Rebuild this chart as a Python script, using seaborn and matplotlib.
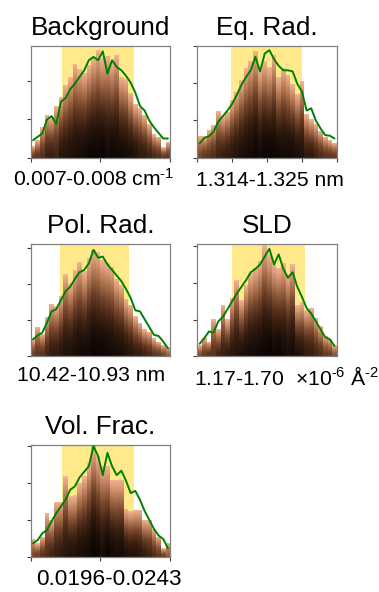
import numpy as np
import matplotlib
matplotlib.use("Agg")
import matplotlib.pyplot as plt
from matplotlib.colors import LinearSegmentedColormap
import seaborn as sns

# ---- parameter names, ranges and marginal histograms ----
titles = ["Background", "Eq. Rad.", "Pol. Rad.", "SLD", "Vol. Frac."]
range_labels = [
    "0.007-0.008 cm$^{\\text{-1}}$",
    "1.314-1.325 nm",
    "10.42-10.93 nm",
    "1.17-1.70  \u00d710$^{\\text{-6}}$ \u00c5$^{\\text{-2}}$",
    "0.0196-0.0243",
]
x_ranges = [(0.007, 0.008), (1.314, 1.325), (10.42, 10.93), (1.17, 1.70), (0.0196, 0.0243)]
ci68 = [(0.007227, 0.007744), (1.31663, 1.32229), (10.527, 10.780),
        (1.3004, 1.5786), (0.020667, 0.023097)]

# sample density per bin (30 bins, peak-normalised)
hist_background = [0.10, 0.155, 0.27, 0.38, 0.36, 0.46, 0.54, 0.65, 0.72, 0.84,
                   0.79, 0.76, 0.83, 0.90, 0.96, 0.89, 0.91, 0.85, 0.92, 0.72,
                   0.70, 0.58, 0.48, 0.44, 0.38, 0.30, 0.21, 0.185, 0.09, 0.14]
hist_eq_rad = [0.19, 0.19, 0.25, 0.29, 0.415, 0.37, 0.41, 0.51, 0.59, 0.69,
               0.80, 0.86, 0.95, 0.79, 0.86, 0.81, 0.92, 0.72, 0.80, 0.74,
               0.66, 0.57, 0.68, 0.39, 0.34, 0.30, 0.24, 0.185, 0.155, 0.13]
hist_pol_rad = [0.15, 0.26, 0.20, 0.35, 0.47, 0.45, 0.54, 0.73, 0.65, 0.77,
                0.84, 0.76, 0.88, 0.95, 0.93, 0.86, 0.83, 0.80, 0.69, 0.64,
                0.51, 0.46, 0.36, 0.30, 0.24, 0.22, 0.16, 0.13, 0.095, 0.08]
hist_sld = [0.095, 0.16, 0.13, 0.33, 0.24, 0.46, 0.33, 0.52, 0.68, 0.50,
            0.64, 0.74, 0.79, 0.85, 0.99, 0.91, 0.83, 0.79, 0.83, 0.73,
            0.82, 0.46, 0.48, 0.41, 0.43, 0.34, 0.27, 0.18, 0.155, 0.095]
hist_vol_frac = [0.155, 0.12, 0.18, 0.39, 0.33, 0.49, 0.49, 0.72, 0.54, 0.55,
                 0.66, 0.72, 0.84, 0.99, 0.90, 0.81, 0.81, 0.69, 0.69, 0.69,
                 0.43, 0.41, 0.42, 0.42, 0.33, 0.33, 0.245, 0.18, 0.075, 0.125]

# maximum likelihood within each bin, scaled to the histogram peak
best_background = [0.155, 0.185, 0.215, 0.34, 0.37, 0.30, 0.50, 0.53, 0.61, 0.66,
                   0.72, 0.78, 0.87, 0.90, 0.87, 0.95, 0.75, 0.87, 0.81, 0.78,
                   0.73, 0.67, 0.58, 0.46, 0.42, 0.33, 0.27, 0.22, 0.17, 0.17]
best_eq_rad = [0.125, 0.175, 0.19, 0.23, 0.32, 0.37, 0.42, 0.48, 0.56, 0.65,
               0.72, 0.78, 0.90, 0.77, 0.93, 0.96, 0.88, 0.82, 0.78, 0.78,
               0.77, 0.66, 0.59, 0.42, 0.44, 0.33, 0.26, 0.20, 0.195, 0.17]
best_pol_rad = [0.15, 0.185, 0.21, 0.30, 0.40, 0.42, 0.50, 0.58, 0.62, 0.69,
                0.75, 0.77, 0.83, 0.95, 0.88, 0.89, 0.82, 0.77, 0.72, 0.67,
                0.60, 0.52, 0.41, 0.40, 0.33, 0.26, 0.19, 0.18, 0.13, 0.07]
best_sld = [0.11, 0.16, 0.22, 0.21, 0.31, 0.35, 0.42, 0.49, 0.56, 0.62,
            0.68, 0.75, 0.78, 0.82, 0.89, 0.96, 0.82, 0.91, 0.78, 0.70,
            0.75, 0.62, 0.53, 0.43, 0.38, 0.31, 0.24, 0.17, 0.15, 0.09]
best_vol_frac = [0.12, 0.15, 0.21, 0.24, 0.32, 0.39, 0.45, 0.51, 0.60, 0.63,
                 0.71, 0.76, 0.81, 0.99, 0.90, 0.73, 0.93, 0.81, 0.73, 0.77,
                 0.68, 0.57, 0.59, 0.51, 0.41, 0.33, 0.25, 0.19, 0.16, 0.075]

hists = [hist_background, hist_eq_rad, hist_pol_rad, hist_sld, hist_vol_frac]
bests = [best_background, best_eq_rad, best_pol_rad, best_sld, best_vol_frac]

# tick placement (fractions of the axis extents)
ytick_steps = [0.34, 0.332, 0.321, 0.327, 0.33]
xtick_fracs = [[0, 0.5, 1], [0, 0.25, 0.5, 0.75, 1], [], [], [0, 0.5, 1]]

# ---- style ----
sns.set_style("ticks")
plt.rcParams["font.family"] = ["Liberation Sans", "DejaVu Sans"]
plt.rcParams["text.color"] = "black"
plt.rcParams["axes.labelcolor"] = "black"
plt.rcParams["axes.titlecolor"] = "black"
plt.rcParams["mathtext.fontset"] = "custom"
plt.rcParams["mathtext.rm"] = "Liberation Sans"
plt.rcParams["mathtext.it"] = "Liberation Sans"
plt.rcParams["mathtext.default"] = "regular"

# copper-like ramp: best likelihood dark, worst light
cmap = LinearSegmentedColormap.from_list(
    "nllf", ["#0b0503", "#3a2011", "#72432a", "#a66e4b", "#d29370", "#f1b592"])
NLL_SPAN = 5.0

W, H = 379, 592
fig = plt.figure(figsize=(W / 100, H / 100), dpi=100)

col_left = [30.7, 197.3]
row_top = [45.7, 244.3, 445.0]
ax_w, ax_h = 139.5, 111.8

# label centres (axes fraction), vertical offsets (pixels below axis), sizes
label_x = [0.449, 0.523, 0.431, 0.642, 0.564]
label_gap = [10.5, 13.5, 10, 10, 12.5]
label_size = [15.2, 15.2, 15.2, 15.2, 16.2]


def draw_panel(ax, lo, hi, heights, best, span, ystep, xfr, title, label,
               lx, lgap, lsize):
    edges = np.linspace(lo, hi, len(heights) + 1)
    centers = 0.5 * (edges[:-1] + edges[1:])
    heights = np.asarray(heights)
    best = np.asarray(best)

    ax.axvspan(span[0], span[1], color="#ffe98a", zorder=0.5, lw=0)

    # stacked likelihood colouring inside each histogram bar
    ny = 400
    yy = np.linspace(0, 1, ny + 1)
    ymid = 0.5 * (yy[:-1] + yy[1:])
    base = np.clip(-np.log(best / best.max()) / NLL_SPAN, 0, 1)
    frac = ymid[:, None] / heights[None, :]
    vals = base[None, :] + (1 - base[None, :]) * np.clip(frac, 0, 1) ** 1.8
    vals = np.ma.masked_where(frac > 1, vals)
    ax.pcolormesh(edges, yy, vals, cmap=cmap, vmin=0, vmax=1,
                  shading="flat", antialiased=False, lw=0, zorder=1)

    sns.lineplot(x=centers, y=best, ax=ax, color="#008000", lw=1.4, zorder=3)

    ax.set_xlim(lo, hi)
    ax.set_ylim(0, 1)
    ax.set_yticks(np.arange(0, 1.0001, ystep))
    ax.set_yticklabels([])
    ax.set_xticks([lo + f * (hi - lo) for f in xfr])
    ax.set_xticklabels([])
    ax.tick_params(axis="both", direction="out", length=3, width=0.8,
                   color="#404040")
    for s in ax.spines.values():
        s.set_color("#808080")
        s.set_linewidth(0.9)

    ax.set_title(title, fontsize=18.8, pad=8)
    ax.set_xlabel(label, fontsize=lsize)
    ax.xaxis.set_label_coords(lx, -lgap / ax_h)


for k in range(5):
    r, c = divmod(k, 2)
    rect = [col_left[c] / W, 1 - (row_top[r] + ax_h) / H, ax_w / W, ax_h / H]
    ax = fig.add_axes(rect)
    lo, hi = x_ranges[k]
    draw_panel(ax, lo, hi, hists[k], bests[k], ci68[k], ytick_steps[k],
               xtick_fracs[k], titles[k], range_labels[k], label_x[k],
               label_gap[k], label_size[k])

fig.savefig("out.png", dpi=100)
